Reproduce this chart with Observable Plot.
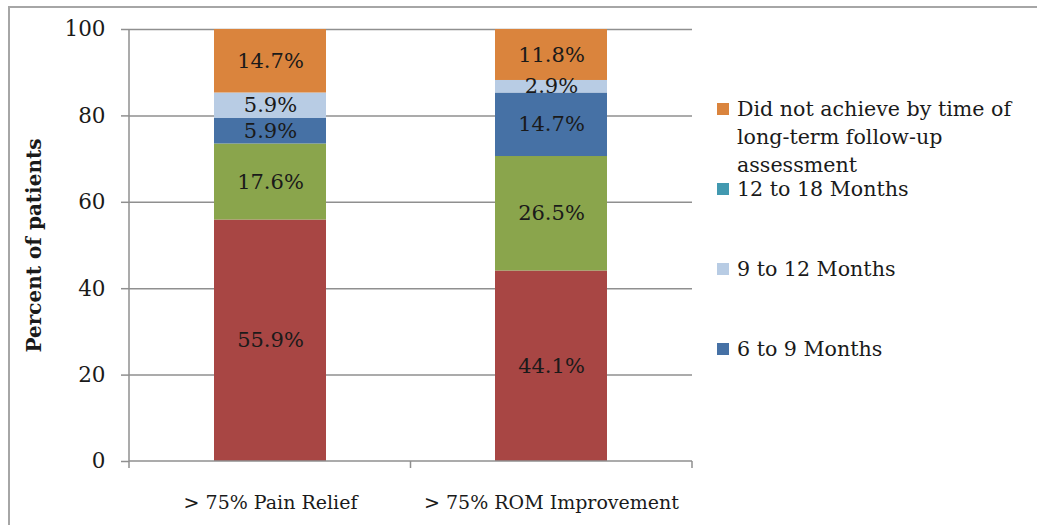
<!DOCTYPE html>
<html>
<head>
<meta charset="utf-8">
<script src="https://cdn.jsdelivr.net/npm/d3@7"></script>
<script src="https://cdn.jsdelivr.net/npm/@observablehq/plot@0.6"></script>
<style>
  body { margin: 0; background: #fff; }
  #wrap { position: relative; width: 1037px; height: 525px; overflow: hidden; font-family: "DejaVu Serif", serif; }
  #border { position: absolute; left: 8px; top: 6px; width: 1100px; height: 600px; border-left: 2px solid #a6a6a6; border-top: 2px solid #a6a6a6; box-sizing: border-box; }
  #chart { position: absolute; left: 0; top: 0; }
  #legend { position: absolute; left: 717px; top: 0; }
  .item { position: absolute; left: 0; width: 310px; font-size: 20.6px; line-height: 28px; color: #1a1a1a; }
  .sw { position: absolute; left: 0; top: 8px; width: 12px; height: 12px; }
  .lt { position: absolute; left: 20px; top: 0; width: 290px; }
</style>
</head>
<body>
<div id="wrap">
  <div id="border"></div>
  <div id="chart"></div>
  <div id="legend"></div>
</div>
<script>
// ---- data ----
const categories = ["> 75% Pain Relief", "> 75% ROM Improvement"];
const seriesNames = ["0 to 3 Months", "3 to 6 Months", "6 to 9 Months", "9 to 12 Months", "12 to 18 Months", "Did not achieve by time of long-term follow-up assessment"];
const painRelief = [55.9, 17.6, 5.9, 5.9, 0, 14.7];
const romImprovement = [44.1, 26.5, 14.7, 2.9, 0, 11.8];
const seriesColors = ["#a84644", "#8aa54c", "#4671a5", "#b8cce4", "#4299b0", "#da843d"];
const legendSeries = ["Did not achieve by time of long-term follow-up assessment", "12 to 18 Months", "9 to 12 Months", "6 to 9 Months"];
const yTicks = [0, 20, 40, 60, 80, 100];
const yTitle = "Percent of patients";

// ---- table ----
const valuesByCategory = [painRelief, romImprovement];
const data = [];
seriesNames.forEach((s, si) => {
  categories.forEach((c, ci) => {
    data.push({category: c, series: s, value: valuesByCategory[ci][si]});
  });
});

const gridColor = "#8f8f8f";

function axisLines(index, scales, values, dims) {
  const g = d3.create("svg:g")
    .attr("stroke", gridColor)
    .attr("stroke-width", 1.5)
    .attr("fill", "none");
  const x0 = dims.marginLeft, x1 = dims.width - dims.marginRight;
  const y0 = dims.marginTop, y1 = dims.height - dims.marginBottom;
  g.append("line").attr("x1", x0).attr("x2", x0).attr("y1", y0).attr("y2", y1);
  g.append("line").attr("x1", x0).attr("x2", x1).attr("y1", y1).attr("y2", y1);
  const xs = scales.x;
  const cats = categories;
  const bw = xs.bandwidth ? xs.bandwidth() : 0;
  const bounds = [x0];
  for (let i = 0; i < cats.length - 1; i++) {
    bounds.push((xs(cats[i]) + bw + xs(cats[i + 1])) / 2);
  }
  bounds.push(x1);
  bounds.forEach(b => {
    g.append("line").attr("x1", b).attr("x2", b).attr("y1", y1).attr("y2", y1 + 7);
  });
  return g.node();
}

const plot = Plot.plot({
  width: 1037,
  height: 525,
  marginLeft: 129,
  marginRight: 345,
  marginTop: 29,
  marginBottom: 64,
  style: {fontFamily: "DejaVu Serif, serif", fontSize: "20px", color: "#1a1a1a", background: "transparent"},
  x: {domain: categories, paddingInner: 0.6, paddingOuter: 0.3, axis: null},
  y: {domain: [0, 100], axis: null},
  color: {domain: seriesNames, range: seriesColors},
  marks: [
    Plot.ruleY(yTicks.filter(d => d > 0), {stroke: gridColor, strokeWidth: 1.5}),
    Plot.barY(data, {x: "category", y: "value", fill: "series", inset: 0}),
    Plot.text(data.filter(d => d.value > 0), Plot.stackY({
      x: "category", y: "value", z: "series",
      text: d => d.value.toFixed(1) + "%",
      fill: "#1a1a1a", fontSize: 21
    })),
    axisLines,
    Plot.axisY(yTicks, {anchor: "left", tickSize: 8, tickPadding: 16, stroke: gridColor, strokeWidth: 1.5, fontSize: 21.5, fill: "#1a1a1a", tickFormat: d => String(d), label: null}),
    Plot.axisX({anchor: "bottom", tickSize: 0, tickPadding: 34, fontSize: 19, fill: "#1a1a1a", label: null}),
    Plot.text([yTitle], {frameAnchor: "left", dx: -95, rotate: -90, textAnchor: "middle", fontSize: 20, fontWeight: "bold", fill: "#1a1a1a", text: d => d})
  ]
});
document.getElementById("chart").appendChild(plot);

// ---- legend ----
const legend = document.getElementById("legend");
legendSeries.forEach((name, i) => {
  const item = document.createElement("div");
  item.className = "item";
  item.style.top = (95 + i * 80) + "px";
  const sw = document.createElement("div");
  sw.className = "sw";
  sw.style.background = seriesColors[seriesNames.indexOf(name)];
  const lt = document.createElement("div");
  lt.className = "lt";
  lt.textContent = name;
  item.appendChild(sw);
  item.appendChild(lt);
  legend.appendChild(item);
});
</script>
</body>
</html>
